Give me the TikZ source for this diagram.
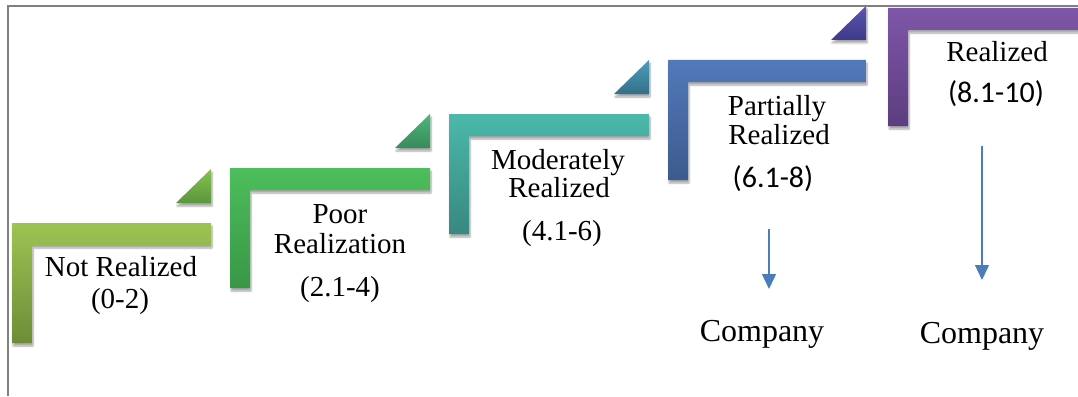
\documentclass[tikz,border=0pt]{standalone}
\usepackage{fontspec}
\setmainfont{Liberation Serif}
\newfontfamily\calib{Carlito}
\usetikzlibrary{arrows.meta,shadows.blur}

% step colours: bar top / bar bottom / wedge top / wedge bottom
\definecolor{sAt}{HTML}{9DC352}\definecolor{sAb}{HTML}{6E8C38}
\definecolor{tAt}{HTML}{86C24E}\definecolor{tAb}{HTML}{5A963C}
\definecolor{sBt}{HTML}{4DBE5B}\definecolor{sBb}{HTML}{389746}
\definecolor{tBt}{HTML}{4CB77A}\definecolor{tBb}{HTML}{378B5A}
\definecolor{sCt}{HTML}{4BB9AA}\definecolor{sCb}{HTML}{378880}
\definecolor{tCt}{HTML}{4A9DBA}\definecolor{tCb}{HTML}{366F88}
\definecolor{sDt}{HTML}{5279BA}\definecolor{sDb}{HTML}{3C5A8E}
\definecolor{tDt}{HTML}{5B56B2}\definecolor{tDb}{HTML}{3E3A88}
\definecolor{sEt}{HTML}{7F56A8}\definecolor{sEb}{HTML}{5C3D80}
\definecolor{arrowblue}{HTML}{4A7EBB}
\definecolor{framegray}{HTML}{808080}

\tikzset{
  softshadow/.style={blur shadow={shadow xshift=1pt,shadow yshift=-3pt,shadow blur steps=6,shadow opacity=35}},
  serifline/.style={anchor=base,font=\fontsize{29}{33}\selectfont,inner sep=0pt},
  sansline/.style={anchor=base,font=\calib\fontsize{30}{34}\selectfont,inner sep=0pt},
  companyline/.style={anchor=base,font=\fontsize{32}{36}\selectfont,inner sep=0pt},
  downarrow/.style={draw=arrowblue,line width=1.4pt,-{Triangle[width=14pt,length=15pt]}},
}

\begin{document}
\begin{tikzpicture}[x=1pt,y=-1pt]
\useasboundingbox (0,0) rectangle (1078,396);
\clip (0,0) rectangle (1078,396);

% L-shaped steps: left x, top y, right x, bottom y, colours
\foreach \xa/\ya/\xb/\yb/\ct/\cb in {
   12/223/211/343/sAt/sAb,
  230/168/430/288/sBt/sBb,
  449/114/649/234/sCt/sCb,
  668/60/866/180/sDt/sDb,
  888/8/1090/126/sEt/sEb}{
  \shade[top color=\ct,bottom color=\cb,softshadow]
    (\xa,\ya) -- (\xb,\ya) -- (\xb,\ya+22) -- (\xa+20,\ya+22)
    -- (\xa+20,\yb) -- (\xa,\yb) -- cycle;
}

% wedges above the right end of each tread
\foreach \xb/\ya/\ct/\cb in {211/223/tAt/tAb, 430/168/tBt/tBb, 649/114/tCt/tCb, 866/60/tDt/tDb}{
  \shade[top color=\ct,bottom color=\cb,softshadow]
    (\xb-35,\ya-20) -- (\xb,\ya-20) -- (\xb,\ya-54) -- cycle;
}

% labels
\node[serifline] (l1a) at (121,276) {Not Realized};
\node[serifline] (l1b) at (120,308) {(0-2)};
\node[serifline] (l2a) at (340,223) {Poor};
\node[serifline] (l2b) at (340,253) {Realization};
\node[serifline] (l2c) at (340,296) {(2.1-4)};
\node[serifline] (l3a) at (558,169) {Moderately};
\node[serifline] (l3b) at (559,197) {Realized};
\node[serifline] (l3c) at (562,240) {(4.1-6)};
\node[serifline] (l4a) at (777,115) {Partially};
\node[serifline] (l4b) at (779,144) {Realized};
\node[sansline]  (l4c) at (773,187) {(6.1-8)};
\node[serifline] (l5a) at (997,61)  {Realized};
\node[sansline]  (l5b) at (996,102) {(8.1-10)};

% companies and arrows
\node[companyline] (c1) at (762,341) {Company};
\node[companyline] (c2) at (982,343) {Company};
\coordinate (a1s) at (769,229);
\coordinate (a1e) at (769,289);
\coordinate (a2s) at (982,146);
\coordinate (a2e) at (982,280);
\draw[downarrow] (a1s) -- (a1e);
\draw[downarrow] (a2s) -- (a2e);

% frame
\coordinate (fr0) at (8,396);
\coordinate (fr1) at (8,6);
\coordinate (fr2) at (1078,6);
\draw[framegray,line width=2pt] (fr0) -- (fr1) -- (fr2);
\end{tikzpicture}
\end{document}
